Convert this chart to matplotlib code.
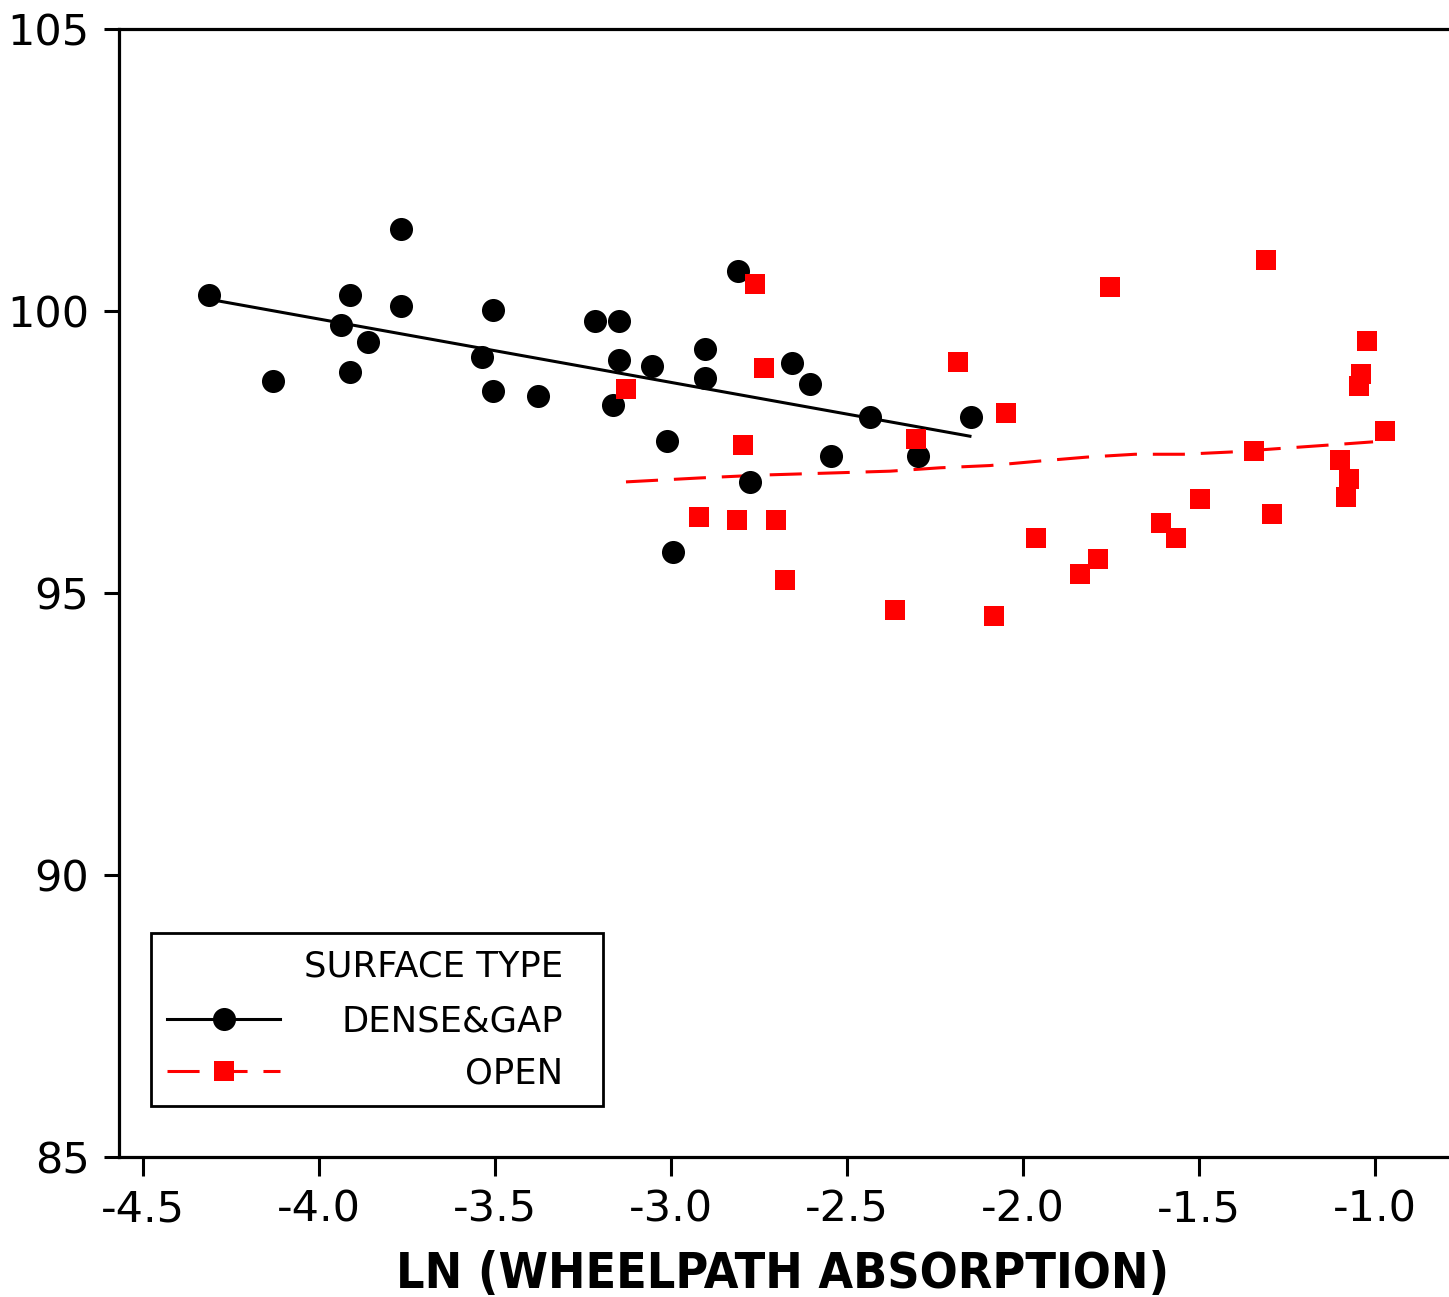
import matplotlib
matplotlib.use("Agg")
import matplotlib.pyplot as plt
from matplotlib.lines import Line2D
from matplotlib import font_manager

# ---------------- data ----------------
dense_x = [-4.312, -4.132, -3.912, -3.768, -3.768, -3.937, -3.860, -3.912,
           -3.505, -3.538, -3.505, -3.377, -3.216, -3.149, -3.149, -3.166,
           -2.809, -3.055, -3.012, -2.995, -2.903, -2.903, -2.775, -2.656,
           -2.605, -2.546, -2.435, -2.299, -2.148]
dense_y = [100.29, 98.75, 100.29, 101.46, 100.08, 99.76, 99.45, 98.91,
           100.02, 99.18, 98.59, 98.49, 99.82, 99.82, 99.13, 98.33,
           100.71, 99.02, 97.70, 95.73, 99.33, 98.81, 96.96, 99.07,
           98.70, 97.43, 98.12, 97.43, 98.12]

open_x = [-3.127, -2.761, -2.736, -2.922, -2.812, -2.702, -2.795, -2.677,
          -2.363, -2.304, -2.185, -2.049, -1.964, -2.082, -1.838, -1.787,
          -1.753, -1.607, -1.565, -1.497, -1.345, -1.310, -1.293, -1.099,
          -1.073, -1.082, -1.047, -1.039, -1.022, -0.971]
open_y = [98.62, 100.47, 98.99, 96.34, 96.29, 96.29, 97.62, 95.23,
          94.70, 97.73, 99.10, 98.20, 95.98, 94.60, 95.34, 95.60,
          100.43, 96.24, 95.98, 96.66, 97.51, 100.90, 96.40, 97.35,
          97.03, 96.71, 98.67, 98.89, 99.47, 97.88]

# fitted lines as drawn in the reference
dense_fit_x = [-4.287, -2.151]
dense_fit_y = [100.18, 97.78]

open_fit_x = [-3.128, -2.918, -2.747, -2.534, -2.378, -2.236, -2.094, -1.952,
              -1.818, -1.682, -1.545, -1.409, -1.276, -1.139, -1.006]
open_fit_y = [96.97, 97.04, 97.09, 97.13, 97.16, 97.22, 97.26, 97.34,
              97.41, 97.46, 97.46, 97.50, 97.56, 97.62, 97.68]

x_ticks = [-4.5, -4.0, -3.5, -3.0, -2.5, -2.0, -1.5, -1.0]
x_tick_labels = ["-4.5", "-4.0", "-3.5", "-3.0", "-2.5", "-2.0", "-1.5", "-1.0"]
y_ticks = [85, 90, 95, 100, 105]
y_tick_labels = ["85", "90", "95", "100", "105"]

legend_title = "SURFACE TYPE"
series_labels = ["DENSE&GAP", "OPEN"]
x_label = "LN (WHEELPATH ABSORPTION)"

# ---------------- fonts ----------------
plt.rcParams["font.family"] = ["DejaVu Sans"]

label_font = None
for f in font_manager.fontManager.ttflist:
    if "DejaVuSansCondensed-Bold.ttf" in f.fname:
        label_font = font_manager.FontProperties(fname=f.fname, size=35.9)
        break
if label_font is None:
    label_font = font_manager.FontProperties(family="DejaVu Sans", weight="bold", size=32)

# ---------------- figure ----------------
W, H = 1449, 1297
fig = plt.figure(figsize=(W / 100, H / 100), dpi=100)
ax = fig.add_axes([119 / W, 1 - 1157 / H, (1447 - 119) / W, (1157 - 29) / H])

RED = "#ff0000"
LW = 2.2
dash = (0, (10.5, 5.2))

ax.plot(dense_fit_x, dense_fit_y, color="black", lw=LW, zorder=2)
ax.plot(open_fit_x, open_fit_y, color=RED, lw=LW, linestyle=dash, zorder=2)
ax.plot(dense_x, dense_y, linestyle="none", marker="o", markersize=16.6,
        color="black", markeredgewidth=0, zorder=3)
ax.plot(open_x, open_y, linestyle="none", marker="s", markersize=15,
        color=RED, markeredgewidth=0, zorder=3)

ax.set_xlim(-4.568, -0.796)
ax.set_ylim(85, 105)
ax.set_xticks(x_ticks)
ax.set_xticklabels(x_tick_labels)
ax.set_yticks(y_ticks)
ax.set_yticklabels(y_tick_labels)

for s in ["left", "bottom", "top"]:
    ax.spines[s].set_linewidth(2.3)
ax.spines["right"].set_visible(False)

ax.tick_params(axis="y", direction="out", length=10.8, width=2.2, pad=10.5,
               labelsize=31)
ax.tick_params(axis="x", direction="out", length=13.7, width=2.2, pad=9,
               labelsize=31)
ax.set_xlabel(x_label, fontproperties=label_font, labelpad=14)

# ---------------- legend ----------------
h_dense = Line2D([], [], color="black", lw=LW, marker="o", markersize=16.6,
                 markeredgewidth=0)
h_open = Line2D([], [], color=RED, lw=LW, linestyle=dash, marker="s",
                markersize=15, markeredgewidth=0)
LFS = 25.5
leg = ax.legend([h_dense, h_open], series_labels, title=legend_title,
                loc="lower left", bbox_to_anchor=(32 / 1328, 51 / 1128),
                borderaxespad=0, fontsize=LFS, title_fontsize=LFS,
                frameon=True, fancybox=False, shadow=False, framealpha=1,
                edgecolor="black", borderpad=0.45, labelspacing=0.5,
                handlelength=3.2, handletextpad=2.4, alignment="right")
leg.get_frame().set_linewidth(2.0)
# a little more room between the title and the entries
leg._legend_box.sep = 0.6 * LFS

# right-align the entry labels, with extra room on the right of the box
fig.canvas.draw()
renderer = fig.canvas.get_renderer()
extra = 24
widths = [t.get_window_extent(renderer).width for t in leg.get_texts()]
wmax = max(widths)
for t, w in zip(leg.get_texts(), widths):
    t.set_position((wmax - w - extra, 0))
leg.get_title().set_position((-extra, 0))

fig.savefig("out.png", dpi=100, facecolor="white")
